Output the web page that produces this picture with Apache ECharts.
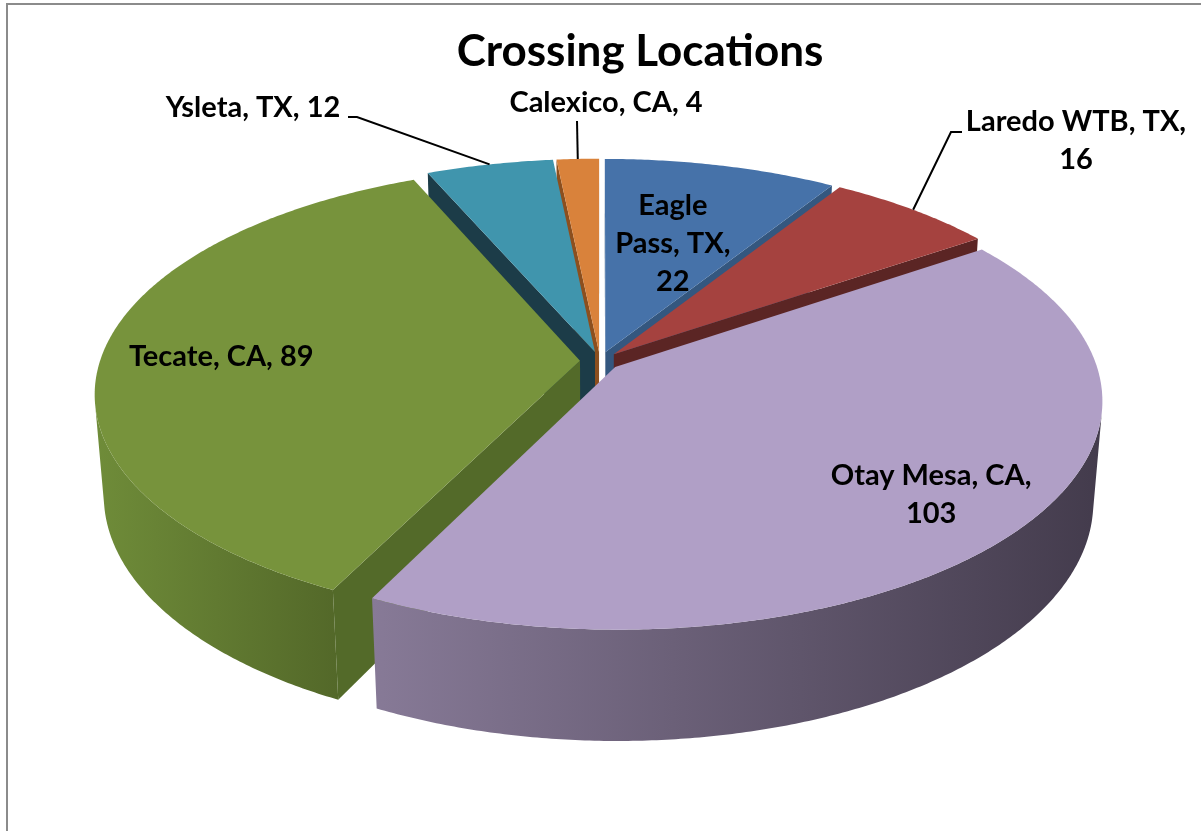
<!DOCTYPE html>
<html>
<head>
<meta charset="utf-8">
<title>Crossing Locations</title>
<script src="https://cdn.jsdelivr.net/npm/echarts@6/dist/echarts.min.js"></script>
<style>
  html, body { margin: 0; padding: 0; background: #fff; }
  #chart { width: 1201px; height: 831px; }
</style>
</head>
<body>
<div id="chart"></div>
<script>
const categories = ['Eagle Pass, TX', 'Laredo WTB, TX', 'Otay Mesa, CA', 'Tecate, CA', 'Ysleta, TX', 'Calexico, CA'];
const values = [22, 16, 103, 89, 12, 4];

const topColors = ['#4672A9', '#A5423F', '#B09FC6', '#77933C', '#4095AD', '#D9823B'];
const wallColors = ['#34577F', '#5B2524', '#6E6282', '#536A29', '#1C3C48', '#8C4F1E'];
const sideColors = [
    ['#3F6696', '#2D4A6C'],
    ['#8E3836', '#5B2524'],
    ['#877A97', '#433B4C'],
    ['#6F8C39', '#536829'],
    ['#377F93', '#1C3C48'],
    ['#B86D31', '#8C4F1E']
];

// where each label goes: inside ones at a fraction of the radius, outside ones with a leader.
// breaks = word positions where the label wraps
const labelLayout = [
    {inside: 0.55, breaks: [1, 3]},
    {x: 1076, y: 141, breaks: [3], leader: [[962, 132], [951, 132]]},
    {inside: 0.8, breaks: [3]},
    {inside: 0.75, breaks: []},
    {x: 253, y: 108, breaks: [], leader: [[348, 117], [357, 117]]},
    {x: 606, y: 103, breaks: [], leader: [[577, 121]]}
];

const FONT = "'Lato', 'Liberation Sans', sans-serif";

// fake 3d camera for the pie
const view = {cx: 600, cy: 361, R: 480, H: 115, tilt: 27.7 * Math.PI / 180, dist: 2975, explode: 20};
const sinT = Math.sin(view.tilt), cosT = Math.cos(view.tilt);
const total = values.reduce((a, b) => a + b, 0);

function project(x, y, z) {
    let up = y * cosT - z * sinT;
    let depth = y * sinT + z * cosT;
    let s = view.dist / (view.dist - depth);
    return [view.cx + x * s, view.cy - up * s];
}

function sliceGeom(i) {
    let before = 0;
    for (let j = 0; j < i; j++) before += values[j];
    let a0 = before / total * Math.PI * 2;
    let a1 = (before + values[i]) / total * Math.PI * 2;
    let mid = (a0 + a1) / 2;
    return {a0: a0, a1: a1, mid: mid, ox: view.explode * Math.sin(mid), oz: -view.explode * Math.cos(mid)};
}

function rimPoint(g, t, r, y) {
    return project(g.ox + r * Math.sin(t), y, g.oz - r * Math.cos(t));
}

function labelText(i, breaks) {
    let words = (categories[i] + ', ' + values[i]).split(' ');
    let out = '';
    words.forEach((w, k) => {
        if (k > 0) out += breaks.indexOf(k) >= 0 ? '\n' : ' ';
        out += w;
    });
    return out;
}

// back slices first
let order = values.map((v, i) => i).sort((a, b) => -Math.cos(sliceGeom(a).mid) + Math.cos(sliceGeom(b).mid));

function renderSlice(params, api) {
    let i = api.value(0);
    let rank = order.indexOf(i);
    let g = sliceGeom(i);
    let R = view.R, H = view.H;
    let camZ = view.dist * cosT;
    let children = [];

    let n = Math.max(4, Math.ceil((g.a1 - g.a0) / (Math.PI / 360)));
    let ts = [];
    for (let k = 0; k <= n; k++) ts.push(g.a0 + (g.a1 - g.a0) * k / n);

    // outer rim, only the part facing the camera
    let runTop = [], runBot = [];
    ts.forEach(t => {
        let facing = -R - g.ox * Math.sin(t) + (g.oz - camZ) * Math.cos(t) > 0;
        if (facing) {
            runTop.push(rimPoint(g, t, R, 0));
            runBot.push(rimPoint(g, t, R, -H));
        }
    });
    if (runTop.length > 1) {
        children.push({
            type: 'polygon',
            shape: {points: runTop.concat(runBot.reverse())},
            style: {fill: new echarts.graphic.LinearGradient(0, 0, 1, 0, [
                {offset: 0, color: sideColors[i][0]},
                {offset: 1, color: sideColors[i][1]}
            ])},
            z2: rank * 10 + 1
        });
    }

    // radial walls
    let apexTop = project(g.ox, 0, g.oz);
    let apexBot = project(g.ox, -H, g.oz);
    let startVis = g.ox * Math.cos(g.a0) - Math.sin(g.a0) * (camZ - g.oz) > 0;
    let endVis = -g.ox * Math.cos(g.a1) + Math.sin(g.a1) * (camZ - g.oz) > 0;
    [[g.a0, startVis], [g.a1, endVis]].forEach(w => {
        if (!w[1]) return;
        children.push({
            type: 'polygon',
            shape: {points: [apexTop, rimPoint(g, w[0], R, 0), rimPoint(g, w[0], R, -H), apexBot]},
            style: {fill: wallColors[i]},
            z2: rank * 10 + 2
        });
    });

    // top face
    let top = [apexTop].concat(ts.map(t => rimPoint(g, t, R, 0)));
    children.push({
        type: 'polygon',
        shape: {points: top},
        style: {fill: topColors[i]},
        z2: rank * 10 + 3
    });

    // data label
    let lay = labelLayout[i];
    let pos;
    if (lay.inside) {
        pos = rimPoint(g, g.mid, R * lay.inside, 0);
    } else {
        pos = [lay.x, lay.y];
        let pts = lay.leader.concat([rimPoint(g, g.mid, R, 0)]);
        children.push({
            type: 'polyline',
            shape: {points: pts},
            style: {stroke: '#000', lineWidth: 2, fill: null},
            z2: 1000
        });
    }
    children.push({
        type: 'text',
        x: pos[0],
        y: pos[1],
        style: {
            text: labelText(i, lay.breaks),
            fill: '#000',
            font: 'bold 29px ' + FONT,
            align: 'center',
            verticalAlign: 'middle',
            lineHeight: 38
        },
        z2: 1001
    });

    return {type: 'group', children: children};
}

let myChart = echarts.init(document.getElementById('chart'));

let option = {
    backgroundColor: '#fff',
    animation: false,
    graphic: [
        {
            type: 'rect',
            shape: {x: 7, y: 4, width: 1300, height: 900},
            style: {fill: null, stroke: '#8b8b8b', lineWidth: 2}
        },
        {
            type: 'text',
            x: 640,
            y: 52,
            style: {
                text: 'Crossing Locations',
                font: 'bold 44px ' + FONT,
                fill: '#000',
                align: 'center',
                verticalAlign: 'middle'
            }
        }
    ],
    series: [
        {
            type: 'custom',
            coordinateSystem: 'none',
            renderItem: renderSlice,
            data: order.map(i => [i])
        }
    ]
};

myChart.setOption(option);
</script>
</body>
</html>
